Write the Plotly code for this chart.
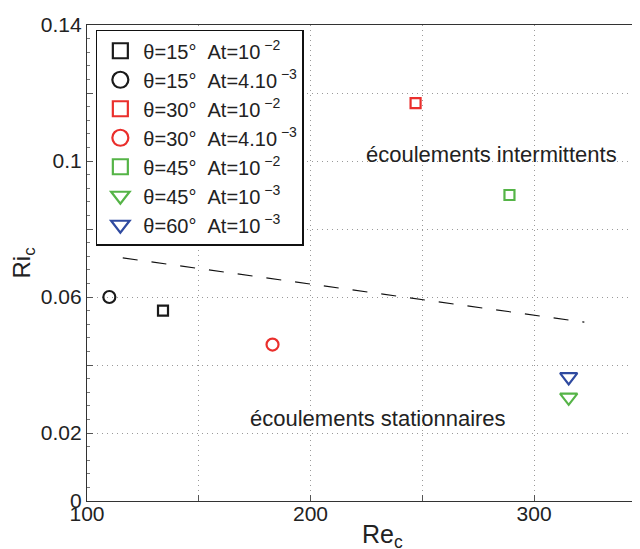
import plotly.graph_objects as go

# ---- data ----
series_names = [
    "θ=15°\u00a0\u00a0At=10<sup>\u00a0−2</sup>",
    "θ=15°\u00a0\u00a0At=4.10<sup>\u00a0−3</sup>",
    "θ=30°\u00a0\u00a0At=10<sup>\u00a0−2</sup>",
    "θ=30°\u00a0\u00a0At=4.10<sup>\u00a0−3</sup>",
    "θ=45°\u00a0\u00a0At=10<sup>\u00a0−2</sup>",
    "θ=45°\u00a0\u00a0At=10<sup>\u00a0−3</sup>",
    "θ=60°\u00a0\u00a0At=10<sup>\u00a0−3</sup>",
]
re_c = [134, 110, 247, 183, 289, 315.5, 315.5]
ri_c = [0.056, 0.060, 0.117, 0.046, 0.090, 0.0305, 0.0365]
symbols = ["square-open", "circle-open", "square-open", "circle-open",
           "square-open", "triangle-down-open", "triangle-down-open"]
colors = ["#1a1a1a", "#1a1a1a", "#ea2f2c", "#ea2f2c", "#55b447", "#55b447", "#2f4aa0"]
plot_sizes = [10, 12, 10, 12, 10, 15, 15]
legend_sizes = [15, 16, 15, 16, 15, 18, 18]

boundary_re = [116, 322.5]
boundary_ri = [0.0715, 0.0526]

x_tickvals = [100, 150, 200, 250, 300]
x_ticktext = ["100", "", "200", "", "300"]
y_tickvals = [0, 0.02, 0.04, 0.06, 0.08, 0.10, 0.12, 0.14]
y_ticktext = ["0", "0.02", "", "0.06", "", "0.1", "", "0.14"]

x_title = "Re<sub>c</sub>"
y_title = "Ri<sub>c</sub>"
label_intermittent = "écoulements intermittents"
label_stationary = "écoulements stationnaires"

FONT = "Liberation Sans, Arial, Helvetica, sans-serif"

fig = go.Figure()

# dashed boundary
fig.add_trace(go.Scatter(x=boundary_re, y=boundary_ri, mode="lines",
                         line=dict(color="#111111", width=1.1, dash="15px,14px"),
                         showlegend=False, hoverinfo="skip"))

for i in range(len(series_names)):
    fig.add_trace(go.Scatter(
        x=[re_c[i]], y=[ri_c[i]], mode="markers",
        marker=dict(symbol=symbols[i], size=plot_sizes[i], color=colors[i],
                    line=dict(color=colors[i], width=2.2)),
        showlegend=False))
    # legend entry (larger marker, as in the reference legend)
    fig.add_trace(go.Scatter(
        x=[None], y=[None], mode="markers", name=series_names[i],
        marker=dict(symbol=symbols[i], size=legend_sizes[i], color=colors[i],
                    line=dict(color=colors[i], width=2.2)),
        showlegend=True))

fig.add_annotation(x=281, y=0.1018, text=label_intermittent, showarrow=False,
                   font=dict(family=FONT, size=22, color="#222222"))
fig.add_annotation(x=230, y=0.0244, text=label_stationary, showarrow=False,
                   font=dict(family=FONT, size=22, color="#222222"))
# x-axis title (offset to the right as in the reference, cut by the page bottom)
fig.add_annotation(xref="paper", yref="paper", x=0.4937, y=-0.074,
                   xanchor="left", yanchor="middle", text=x_title, showarrow=False,
                   font=dict(family=FONT, size=25, color="#222222"))

# the page body has an 8px default margin, so the figure is sized to fit the window
fig.update_layout(
    width=632, height=541,
    margin=dict(l=79, r=0, t=17, b=48, autoexpand=False),
    paper_bgcolor="white", plot_bgcolor="white",
    font=dict(family=FONT, size=21, color="#222222"),
    showlegend=True,
    legend=dict(x=0.016, y=0.99, xanchor="left", yanchor="top",
                bgcolor="white", bordercolor="#111111", borderwidth=1.5,
                font=dict(family=FONT, size=20, color="#222222"),
                tracegroupgap=0, itemwidth=36),
)

fig.update_xaxes(
    range=[100, 347.4], tickvals=x_tickvals, ticktext=x_ticktext,
    automargin=False,
    showgrid=True, gridcolor="#9a9a9a", griddash="1px,4px", gridwidth=1,
    showline=True, linecolor="#333333", linewidth=1.2, mirror=True,
    ticks="inside", ticklen=6, tickcolor="#555555",
    tickfont=dict(family=FONT, size=21, color="#222222"),
    ticklabelstandoff=-6,
    zeroline=False,
)
fig.update_yaxes(
    range=[0, 0.14], tickvals=y_tickvals, ticktext=y_ticktext,
    automargin=False,
    showgrid=True, gridcolor="#9a9a9a", griddash="1px,4px", gridwidth=1,
    showline=True, linecolor="#333333", linewidth=1.2, mirror=False,
    ticks="inside", ticklen=6, tickcolor="#555555",
    tickfont=dict(family=FONT, size=21, color="#222222"),
    zeroline=False,
    minor=dict(ticks="inside", ticklen=3, dtick=0.004, tickcolor="#777777", showgrid=False),
    title=dict(text=y_title, font=dict(family=FONT, size=24, color="#222222"),
               standoff=12),
)

fig.write_html("out.html")
